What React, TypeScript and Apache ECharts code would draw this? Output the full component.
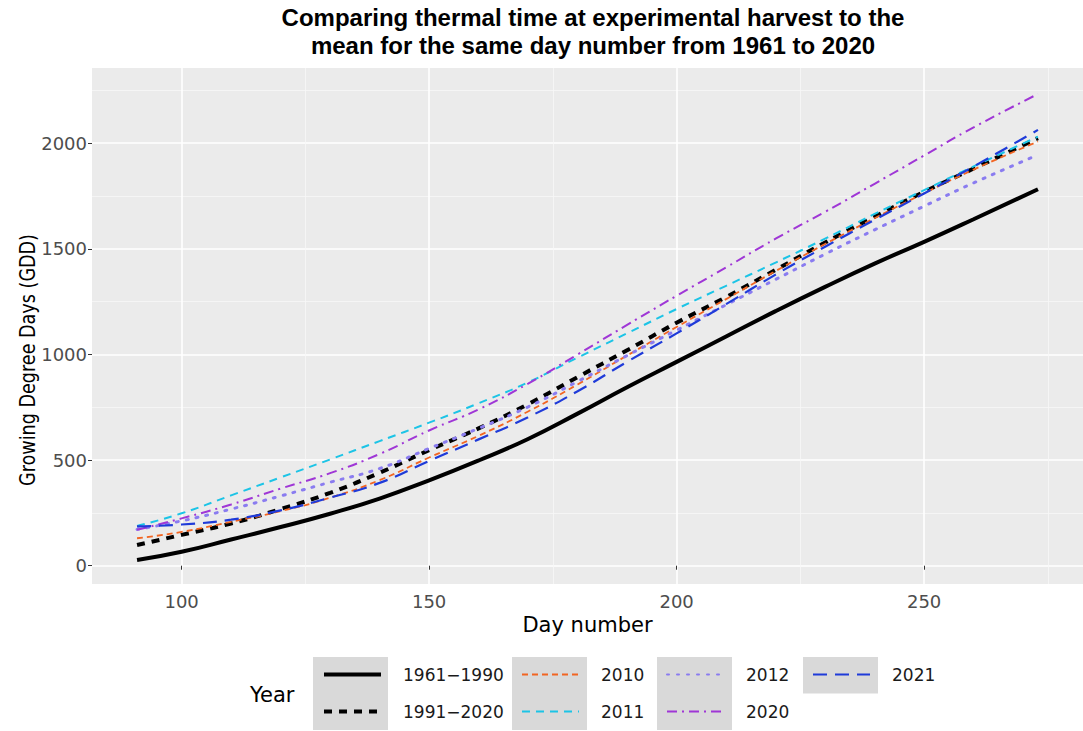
import React, { useEffect, useRef } from "react";
import * as echarts from "echarts";

// ---- data ----
const days = [91, 100, 110, 120, 130, 140, 150, 160, 170, 180, 190, 200, 210, 220, 230, 240, 250, 260, 273];
const gdd1961_1990 = [27, 66, 124, 183, 246, 318, 404, 498, 600, 720, 845, 965, 1085, 1205, 1320, 1430, 1533, 1640, 1782];
const gdd1991_2020 = [98, 146, 200, 268, 345, 440, 547, 650, 765, 893, 1020, 1150, 1272, 1400, 1530, 1652, 1770, 1880, 2024];
const gdd2010 = [130, 160, 208, 258, 322, 405, 512, 615, 730, 858, 995, 1130, 1262, 1395, 1523, 1645, 1763, 1875, 2008];
const gdd2011 = [188, 248, 333, 418, 503, 590, 677, 769, 868, 985, 1100, 1215, 1325, 1435, 1548, 1665, 1778, 1890, 2031];
const gdd2012 = [172, 212, 268, 330, 395, 460, 555, 650, 752, 872, 995, 1115, 1235, 1355, 1475, 1590, 1702, 1812, 1945];
const gdd2020 = [170, 224, 290, 365, 438, 529, 640, 740, 862, 1000, 1140, 1278, 1412, 1548, 1675, 1808, 1942, 2075, 2233];
const gdd2021 = [186, 195, 218, 262, 322, 392, 496, 598, 703, 826, 965, 1100, 1238, 1378, 1510, 1637, 1762, 1890, 2063];

const seriesNames = ["1961\u22121990", "1991\u22122020", "2010", "2011", "2012", "2020", "2021"];
const seriesValues = [gdd1961_1990, gdd1991_2020, gdd2010, gdd2011, gdd2012, gdd2020, gdd2021];

const xMajorTicks = [100, 150, 200, 250];
const xMinorTicks = [125, 175, 225, 275];
const yMajorTicks = [0, 500, 1000, 1500, 2000];
const yMinorTicks = [250, 750, 1250, 1750, 2250];

const titleText = "Comparing thermal time at experimental harvest to the\nmean for the same day number from 1961 to 2020";
const xTitle = "Day number";
const yTitle = "Growing Degree Days (GDD)";
const legendTitle = "Year";

// ---- styles ----
const lineStyles: any[] = [
  { color: "#000000", width: 4, type: "solid" },
  { color: "#000000", width: 4, type: [8, 7] },
  { color: "#F26522", width: 1.8, type: [6, 4] },
  { color: "#1CC4E6", width: 2, type: [8, 6] },
  { color: "#8A7CF0", width: 3, type: [2, 8], cap: "round" },
  { color: "#9F36D6", width: 2, type: [10, 5, 2, 5] },
  { color: "#1F3BD9", width: 2.2, type: [14, 8] },
];

const FONT = "DejaVu Sans";
const legendCols = [[0, 1], [2, 3], [4, 5], [6]];
const keyLefts = [313, 512, 657, 803];
const keyTop = 657;
const keyW = 75;
const keyRowH = 36.5;

export default function App() {
  const ref = useRef<HTMLDivElement>(null);
  useEffect(() => {
    if (!ref.current) return;
    const chart = echarts.init(ref.current, null, { renderer: "svg" });
    const xMin = 81.9, xMax = 282.1, yMin = -86.6, yMax = 2356;
    const legends = legendCols.map((idxs, i) => {
      const lg: any = {
        data: idxs.map((k) => seriesNames[k]),
        orient: "vertical",
        left: keyLefts[i] + 9,
        top: keyTop + 9,
        padding: 0,
        itemWidth: 57,
        itemHeight: 20,
        itemGap: 20,
        selectedMode: false,
        itemStyle: { opacity: 0 },
        textStyle: { fontFamily: FONT, fontSize: 17, color: "#1A1A1A", padding: [0, 0, 0, 17] },
      };
      if (i === 0) lg.lineStyle = { width: 4 };
      return lg;
    });
    const option: any = {
      animation: false,
      backgroundColor: "#ffffff",
      title: {
        text: titleText,
        left: 588,
        top: -2,
        textAlign: "center",
        textStyle: { fontFamily: "Liberation Sans", fontWeight: "bold", fontSize: 24, lineHeight: 28, color: "#000" },
      },
      grid: {
        left: 92, right: -13, top: 68, bottom: 147,
        show: true, backgroundColor: "#EBEBEB", borderWidth: 0,
      },
      xAxis: [
        {
          type: "value", min: xMin, max: xMax,
          name: xTitle, nameLocation: "middle", nameGap: 30,
          nameTextStyle: { fontFamily: FONT, fontSize: 21, color: "#000" },
          axisLine: { show: false },
          axisTick: { show: true, length: 4, lineStyle: { color: "#333", width: 1 }, customValues: xMajorTicks },
          axisLabel: { customValues: xMajorTicks, color: "#4D4D4D", fontFamily: FONT, fontSize: 18, margin: 8, formatter: (v: number) => String(v) },
          splitLine: { show: true, lineStyle: { color: "#FFFFFF", width: 1.6 } },
        },
        {
          type: "value", min: xMin, max: xMax, position: "bottom",
          axisLine: { show: false },
          axisTick: { show: false, customValues: xMinorTicks },
          axisLabel: { show: false, customValues: xMinorTicks },
          splitLine: { show: true, lineStyle: { color: "#F7F7F7", width: 0.8 } },
        },
      ],
      yAxis: [
        {
          type: "value", min: yMin, max: yMax,
          axisLine: { show: false },
          axisTick: { show: true, length: 4, lineStyle: { color: "#333", width: 1 }, customValues: yMajorTicks },
          axisLabel: { customValues: yMajorTicks, color: "#4D4D4D", fontFamily: FONT, fontSize: 18, margin: 5, formatter: (v: number) => String(v) },
          splitLine: { show: true, lineStyle: { color: "#FFFFFF", width: 1.6 } },
        },
        {
          type: "value", min: yMin, max: yMax, position: "left",
          axisLine: { show: false },
          axisTick: { show: false, customValues: yMinorTicks },
          axisLabel: { show: false, customValues: yMinorTicks },
          splitLine: { show: true, lineStyle: { color: "#F7F7F7", width: 0.8 } },
        },
      ],
      legend: legends,
      graphic: [
        ...keyLefts.map((x, i) => ({
          type: "rect",
          silent: true,
          z: -1,
          shape: { x, y: keyTop, width: keyW, height: i === 3 ? keyRowH : keyRowH * 2 },
          style: { fill: "#D9D9D9" },
        })),
        {
          type: "text",
          x: 250,
          y: 695,
          style: { text: legendTitle, font: `21px '${FONT}'`, fill: "#000", textVerticalAlign: "middle" },
        },
        {
          type: "text",
          x: 28,
          y: 360,
          rotation: Math.PI / 2,
          scaleX: 0.8,
          style: { text: yTitle, font: `22px '${FONT}'`, fill: "#000", textAlign: "center", textVerticalAlign: "middle" },
        },
      ],
      series: seriesNames.map((name, k) => ({
        name,
        type: "line",
        xAxisIndex: 0,
        yAxisIndex: 0,
        smooth: true,
        symbol: "none",
        lineStyle: lineStyles[k],
        data: days.map((d, i) => [d, seriesValues[k][i]]),
      })),
    };
    chart.setOption(option);
    return () => chart.dispose();
  }, []);
  return (
    <div
      ref={ref}
      style={{ position: "fixed", left: 0, top: 0, width: 1083, height: 731 }}
    />
  );
}
